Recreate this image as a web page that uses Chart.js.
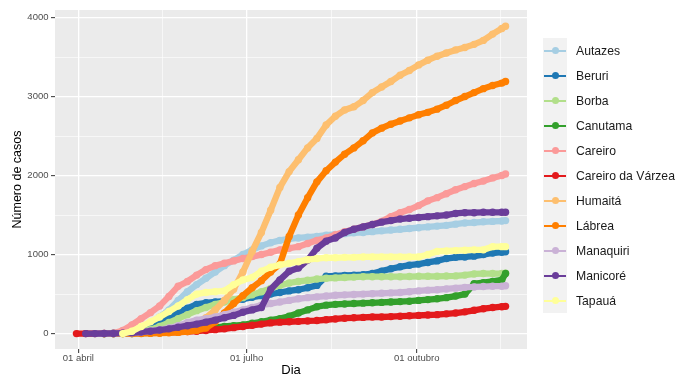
<!DOCTYPE html>
<html><head><meta charset="utf-8">
<script src="https://cdn.jsdelivr.net/npm/chart.js@4.4.1/dist/chart.umd.min.js"></script>
<style>
html,body{margin:0;padding:0;background:#fff;}
#wrap{position:relative;width:676px;height:376px;overflow:hidden;}
#legend{position:absolute;left:543px;top:38px;font-family:'Liberation Sans',Arial,sans-serif;font-size:12.2px;color:#1a1a1a;}
.row{display:flex;align-items:center;height:25px;}
.key{position:relative;width:24px;height:25px;background:#F2F2F2;}
.key .ln{position:absolute;left:1px;right:1px;top:11.5px;height:2.2px;}
.key .dt{position:absolute;left:8.5px;top:9px;width:7px;height:7px;border-radius:50%;}
.lab{margin-left:9px;white-space:nowrap;}
</style></head>
<body>
<div id="wrap">
<canvas id="c" width="676" height="376"></canvas>
<div id="legend"></div>
</div>
<script>
// Days since 01 abril 2020
const days = [-1,4,9,14,19,24,29,34,39,44,49,54,59,64,69,74,79,84,89,94,99,104,109,114,119,124,129,134,139,144,149,154,159,164,169,174,179,184,189,194,199,204,209,214,219,224,229,231];

const seriesNames = ['Autazes','Beruri','Borba','Canutama','Careiro','Careiro da Várzea','Humaitá','Lábrea','Manaquiri','Manicoré','Tapauá'];
const seriesColors = ['#A6CEE3','#1F78B4','#B2DF8A','#33A02C','#FB9A99','#E31A1C','#FDBF6F','#FF7F00','#CAB2D6','#6A3D9A','#FFFF99'];

const autazes = [null,null,null,null,0,10,30,60,130,210, 300,420,530,620,700,780,860,930,1000,1060, 1110,1150,1180,1200,1210,1220,1230,1245,1255,1265, 1275,1280,1290,1300,1310,1320,1330,1340,1350,1360, 1370,1385,1400,1405,1415,1420,1425,1430];
const beruri = [null,null,null,0,5,15,30,50,80,130, 200,270,320,370,390,400,410,420,435,460, 480,500,520,540,555,580,610,725,730,735, 740,745,760,790,820,845,865,880,900,920, 950,965,970,980,1000,1020,1030,1035];
const borba = [null,null,null,0,2,5,10,25,50,90, 140,190,240,290,330,370,400,430,455,490, 530,570,610,640,660,675,690,700,705,710, 715,720,720,720,720,720,722,725,725,725, 728,730,740,755,760,760,760,765];
const canutama = [null,null,null,0,0,1,2,5,8,12, 18,25,35,45,60,75,90,100,110,130, 150,170,190,220,260,300,340,360,370,375, 380,385,390,395,400,405,410,420,430,440, 455,475,500,630,645,660,680,760];
const careiro = [null,null,null,null,5,40,110,190,265,350, 470,600,660,740,810,860,890,920,950,975, 1000,1030,1060,1080,1100,1140,1180,1210,1250,1290, 1320,1350,1380,1420,1480,1530,1570,1620,1680,1720, 1770,1820,1860,1900,1930,1970,2000,2020];
const careiroVarzea = [0,0,0,1,2,4,6,8,10,13, 16,20,25,30,40,50,60,75,90,105, 120,135,145,150,155,160,165,175,185,195, 200,205,210,210,215,220,225,230,235,240, 250,260,275,295,315,330,340,345];
const humaita = [null,null,null,0,0,1,2,5,10,20, 40,70,100,140,200,300,420,560,780,1040, 1280,1560,1850,2050,2200,2350,2470,2640,2750,2830, 2870,2950,3050,3120,3190,3270,3330,3400,3460,3510, 3550,3590,3620,3660,3710,3790,3860,3890];
const labrea = [null,null,null,0,0,0,1,2,3,5, 10,15,25,40,70,150,260,380,480,580, 670,780,880,1230,1500,1720,1920,2060,2170,2270, 2350,2440,2540,2600,2650,2690,2730,2770,2800,2840, 2890,2950,3000,3050,3100,3140,3170,3190];
const manaquiri = [null,null,0,0,2,5,10,20,35,50, 70,100,140,170,190,210,240,270,300,330, 360,380,400,420,440,455,465,475,485,490, 495,500,505,510,515,520,530,540,550,555, 565,575,585,590,595,600,600,605];
const manicore = [null,0,0,1,2,5,10,20,30,45, 60,80,100,120,145,170,200,230,270,300, 330,560,680,790,830,930,1080,1170,1210,1280, 1320,1350,1380,1410,1430,1450,1460,1470,1480,1490, 1500,1520,1530,1530,1535,1535,1535,1535];
const tapaua = [null,null,null,null,null,0,30,90,150,210, 280,350,430,500,520,530,540,620,680,710, 790,840,870,890,910,935,950,960,960,965, 965,970,970,970,970,970,970,970,1000,1040, 1045,1050,1055,1060,1060,1100,1100,1100];

const seriesValues = [autazes,beruri,borba,canutama,careiro,careiroVarzea,humaita,labrea,manaquiri,manicore,tapaua];

const xTickDays = [0,91,183];
const xTickLabels = ['01 abril','01 julho','01 outubro'];
const xMinorDays = [45.5,137,228.5];
const yTickValues = [0,1000,2000,3000,4000];
const yMinorValues = [500,1500,2500,3500];

const FONT = "'Liberation Sans', Arial, sans-serif";
const n = seriesNames.length;

const datasets = seriesNames.map((name,i)=>({
  label: name,
  data: days.map((d,j)=>({x:d, y:seriesValues[i][j]})),
  borderColor: seriesColors[i],
  backgroundColor: seriesColors[i],
  pointBackgroundColor: seriesColors[i],
  pointBorderWidth: 0,
  pointRadius: 3.7,
  pointHoverRadius: 3.7,
  borderWidth: 6.3,
  tension: 0,
  order: n - i
}));

const panelBg = {
  id:'panelBg',
  beforeDraw(chart){
    const {ctx, chartArea:a} = chart;
    ctx.save();
    ctx.fillStyle = '#EBEBEB';
    ctx.fillRect(a.left, a.top, a.right-a.left, a.bottom-a.top);
    ctx.restore();
  }
};

const isMajorX = v => xTickDays.includes(v);
const isMajorY = v => yTickValues.includes(v);

new Chart(document.getElementById('c'), {
  type: 'line',
  data: { datasets },
  plugins: [panelBg],
  options: {
    responsive: false,
    animation: false,
    devicePixelRatio: 1,
    events: [],
    layout: { padding: { top: 10, right: 149, left: 0, bottom: 0 } },
    plugins: { legend: { display: false }, tooltip: { enabled: false } },
    scales: {
      x: {
        type: 'linear',
        min: -12.6,
        max: 242.6,
        afterBuildTicks(axis){
          axis.ticks = xTickDays.concat(xMinorDays).sort((a,b)=>a-b).map(v=>({value:v}));
        },
        afterFit(axis){ axis.height = 27; },
        ticks: {
          autoSkip: false,
          maxRotation: 0,
          padding: 0,
          color: '#4D4D4D',
          font: { family: FONT, size: 9.5 },
          callback(v){ const k = xTickDays.indexOf(v); return k >= 0 ? xTickLabels[k] : ''; }
        },
        grid: {
          color: '#FFFFFF',
          lineWidth: ctx => (ctx.tick && isMajorX(ctx.tick.value)) ? 1.3 : 0.6,
          tickLength: 4,
          tickColor: ctx => (ctx.tick && isMajorX(ctx.tick.value)) ? '#333333' : 'rgba(0,0,0,0)',
          tickWidth: 1
        },
        border: { display: false },
        title: {
          display: true, text: 'Dia', color: '#000000',
          font: { family: FONT, size: 13, lineHeight: 1 },
          padding: { top: 0, bottom: -1 }
        }
      },
      y: {
        type: 'linear',
        min: -195,
        max: 4095,
        afterBuildTicks(axis){
          axis.ticks = yTickValues.concat(yMinorValues).sort((a,b)=>a-b).map(v=>({value:v}));
        },
        afterFit(axis){ axis.width = 55; },
        ticks: {
          autoSkip: false,
          padding: 2.5,
          color: '#4D4D4D',
          font: { family: FONT, size: 9.5 },
          callback(v){ return isMajorY(v) ? String(v) : ''; }
        },
        grid: {
          color: '#FFFFFF',
          lineWidth: ctx => (ctx.tick && isMajorY(ctx.tick.value)) ? 1.3 : 0.6,
          tickLength: 4,
          tickColor: ctx => (ctx.tick && isMajorY(ctx.tick.value)) ? '#333333' : 'rgba(0,0,0,0)',
          tickWidth: 1
        },
        border: { display: false },
        title: {
          display: true, text: 'Número de casos', color: '#000000',
          font: { family: FONT, size: 12.5 },
          padding: { top: 10, bottom: 0 }
        }
      }
    }
  }
});

// Legend (ggplot style)
const leg = document.getElementById('legend');
seriesNames.forEach((name,i)=>{
  const row = document.createElement('div'); row.className='row';
  const key = document.createElement('div'); key.className='key';
  const ln = document.createElement('div'); ln.className='ln'; ln.style.background=seriesColors[i];
  const dt = document.createElement('div'); dt.className='dt'; dt.style.background=seriesColors[i];
  key.appendChild(ln); key.appendChild(dt);
  const lab = document.createElement('div'); lab.className='lab'; lab.textContent=name;
  row.appendChild(key); row.appendChild(lab);
  leg.appendChild(row);
});
</script>
</body></html>
